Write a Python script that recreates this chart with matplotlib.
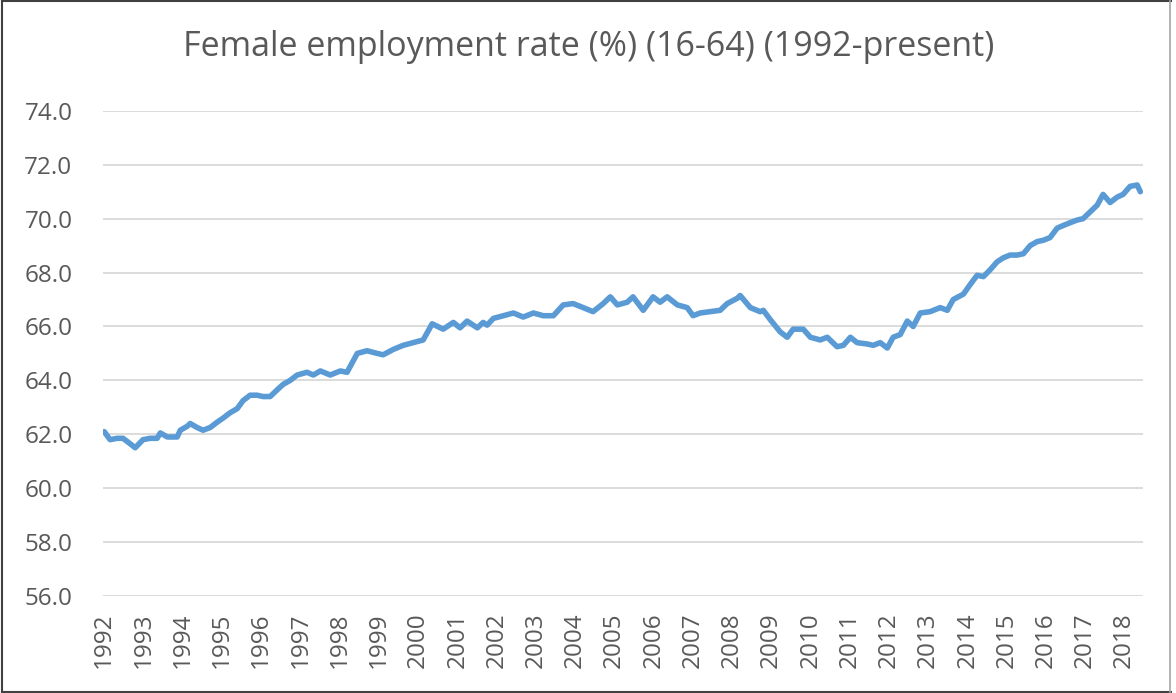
import matplotlib.pyplot as plt
from matplotlib.lines import Line2D

# female employment rate (%), decimal year
years = [1992.00, 1992.15, 1992.33, 1992.48, 1992.66, 1992.79, 1992.99, 1993.17, 1993.35, 1993.43,
         1993.61, 1993.86, 1993.94, 1994.12, 1994.19, 1994.37, 1994.52, 1994.70, 1994.88, 1995.03,
         1995.21, 1995.39, 1995.54, 1995.72, 1995.90, 1996.05, 1996.23, 1996.41, 1996.56, 1996.74,
         1996.92, 1997.17, 1997.33, 1997.51, 1997.76, 1998.02, 1998.19, 1998.45, 1998.70, 1998.96,
         1999.11, 1999.37, 1999.62, 1999.88, 2000.13, 2000.36, 2000.64, 2000.90, 2001.07, 2001.25,
         2001.51, 2001.66, 2001.76, 2001.92, 2002.17, 2002.43, 2002.68, 2002.94, 2003.19, 2003.45,
         2003.70, 2003.95, 2004.21, 2004.46, 2004.72, 2004.90, 2005.08, 2005.33, 2005.48, 2005.74,
         2005.99, 2006.17, 2006.35, 2006.61, 2006.86, 2007.01, 2007.19, 2007.45, 2007.70, 2007.88,
         2008.14, 2008.21, 2008.47, 2008.72, 2008.80, 2008.98, 2009.23, 2009.41, 2009.56, 2009.82,
         2010.00, 2010.25, 2010.43, 2010.68, 2010.84, 2011.02, 2011.19, 2011.45, 2011.60, 2011.78,
         2011.96, 2012.11, 2012.29, 2012.47, 2012.62, 2012.80, 2013.05, 2013.31, 2013.49, 2013.64,
         2013.90, 2014.07, 2014.25, 2014.41, 2014.58, 2014.76, 2014.92, 2015.09, 2015.27, 2015.43,
         2015.60, 2015.78, 2015.94, 2016.11, 2016.29, 2016.45, 2016.62, 2016.80, 2016.95, 2017.13,
         2017.31, 2017.46, 2017.64, 2017.82, 2017.97, 2018.15, 2018.33, 2018.41]
rate = [62.1, 61.8, 61.85, 61.85, 61.65, 61.5, 61.8, 61.85, 61.85, 62.05,
        61.9, 61.9, 62.15, 62.3, 62.4, 62.25, 62.15, 62.25, 62.45, 62.6,
        62.8, 62.95, 63.25, 63.45, 63.45, 63.4, 63.4, 63.65, 63.85, 64.0,
        64.2, 64.3, 64.2, 64.35, 64.2, 64.35, 64.3, 65.0, 65.1, 65.0,
        64.95, 65.15, 65.3, 65.4, 65.5, 66.1, 65.9, 66.15, 65.95, 66.2,
        65.95, 66.15, 66.05, 66.3, 66.4, 66.5, 66.35, 66.5, 66.4, 66.4,
        66.8, 66.85, 66.7, 66.55, 66.85, 67.1, 66.8, 66.9, 67.1, 66.6,
        67.1, 66.9, 67.1, 66.8, 66.7, 66.4, 66.5, 66.55, 66.6, 66.85,
        67.05, 67.15, 66.7, 66.55, 66.6, 66.25, 65.8, 65.6, 65.9, 65.9,
        65.6, 65.5, 65.6, 65.25, 65.3, 65.6, 65.4, 65.35, 65.3, 65.4,
        65.2, 65.6, 65.7, 66.2, 66.0, 66.5, 66.55, 66.7, 66.6, 67.0,
        67.2, 67.55, 67.9, 67.85, 68.1, 68.4, 68.55, 68.65, 68.65, 68.7,
        69.0, 69.15, 69.2, 69.3, 69.65, 69.75, 69.85, 69.95, 70.0, 70.25,
        70.5, 70.9, 70.6, 70.8, 70.9, 71.2, 71.25, 71.0]

year_ticks = list(range(1992, 2019))
y_ticks = [56, 58, 60, 62, 64, 66, 68, 70, 72, 74]
title = 'Female employment rate (%) (16-64) (1992-present)'

plt.rcParams['font.family'] = ['Open Sans', 'DejaVu Sans']
text_col = '#595959'

fig = plt.figure(figsize=(11.76, 6.93), dpi=100)
ax = fig.add_axes([0.0876, 0.140, 0.8844, 0.700])

ax.plot(years, rate, color='#5B9BD5', lw=4, solid_joinstyle='round', solid_capstyle='round', zorder=3)

ax.set_ylim(56, 74)
ax.set_xlim(1991.97, 2018.48)
ax.set_yticks(y_ticks)
ax.set_yticklabels(['%.1f' % v for v in y_ticks])
ax.set_xticks(year_ticks)
ax.set_xticklabels([str(y) for y in year_ticks], rotation=90)
ax.grid(axis='y', color='#d9d9d9', lw=1.3)
ax.set_axisbelow(True)
for s in ax.spines.values():
    s.set_visible(False)
ax.tick_params(axis='y', length=0, pad=22, labelsize=17.5, labelcolor=text_col)
ax.tick_params(axis='x', length=0, pad=12, labelsize=17.5, labelcolor=text_col)

fig.text(0.501, 0.932, title, ha='center', va='center', fontsize=24.5, color=text_col)

# chart frame
fig.add_artist(Line2D([0.002, 0.002], [0.002, 0.998], color='#404040', lw=1.5))
fig.add_artist(Line2D([0.002, 0.996], [0.998, 0.998], color='#404040', lw=1.5))
fig.add_artist(Line2D([0.002, 0.996], [0.002, 0.002], color='#404040', lw=1.5))
fig.add_artist(Line2D([0.995, 0.995], [0.002, 0.998], color='#a6a6a6', lw=1.2))

fig.savefig('out.png', dpi=100)
